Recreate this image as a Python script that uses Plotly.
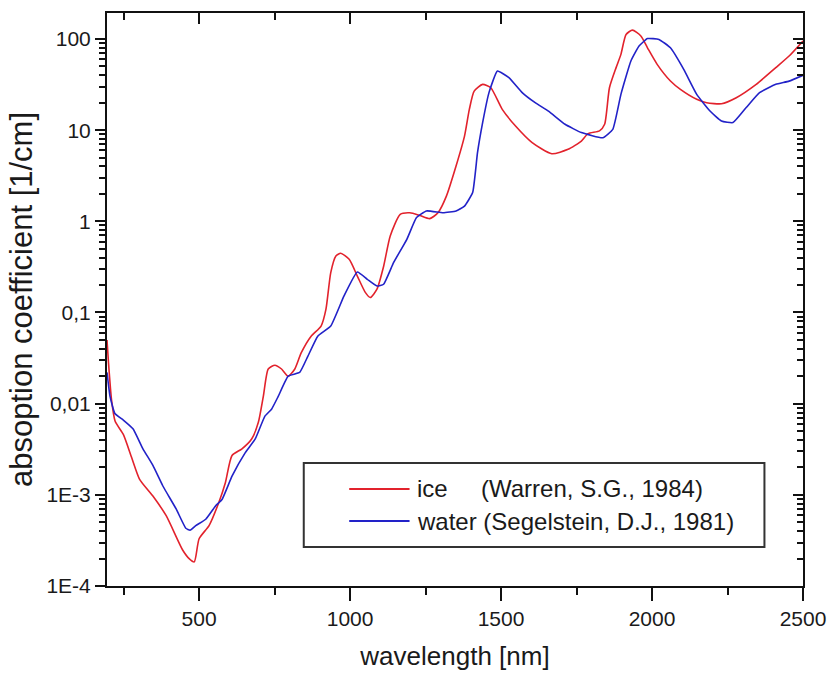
import plotly.graph_objects as go

# ---- data ----
ice_wl = [195, 200, 210, 222, 249, 276, 303, 347, 391, 445, 467, 484, 500, 533, 565, 587,
          609, 642, 674, 696, 713, 729, 751, 773, 795, 817, 838, 871, 904, 920, 936, 953,
          969, 997, 1024, 1051, 1067, 1089, 1111, 1133, 1166, 1198, 1231, 1264, 1291, 1319,
          1351, 1379, 1395, 1411, 1439, 1466, 1504, 1548, 1603, 1668, 1722, 1766, 1788, 1826,
          1843, 1859, 1881, 1897, 1914, 1935, 1963, 1985, 2017, 2061, 2094, 2148, 2181, 2230,
          2279, 2345, 2410, 2454, 2500]
ice_abs = [0.05, 0.028, 0.011, 0.0064, 0.0046, 0.0026, 0.00148, 0.00097, 0.00059, 0.00025,
           0.0002, 0.000184, 0.00033, 0.00046, 0.00082, 0.00136, 0.0027, 0.0032, 0.0041,
           0.0062, 0.0122, 0.024, 0.0264, 0.024, 0.020, 0.024, 0.036, 0.055, 0.071, 0.108,
           0.274, 0.417, 0.446, 0.383, 0.251, 0.165, 0.146, 0.18, 0.32, 0.69, 1.19, 1.24,
           1.16, 1.07, 1.24, 1.89, 4.04, 8.6, 16.9, 26.8, 31.8, 29.2, 16.9, 11.1, 7.3, 5.52,
           6.16, 7.6, 9.15, 9.8, 11.6, 29.2, 48.5, 67.8, 112, 125, 108, 80, 52.7, 34.6, 28,
           21.8, 20, 19.5, 22.7, 31.8, 48.5, 65, 95]

water_wl = [195, 205, 221, 249, 281, 314, 347, 380, 424, 456, 470, 489, 522, 555, 576, 609,
            653, 686, 718, 740, 762, 795, 833, 860, 893, 936, 980, 1024, 1057, 1089, 1111,
            1144, 1188, 1220, 1253, 1308, 1351, 1379, 1406, 1422, 1439, 1460, 1488, 1526,
            1570, 1613, 1657, 1712, 1766, 1837, 1870, 1897, 1930, 1957, 1985, 2023, 2061,
            2105, 2148, 2192, 2230, 2268, 2312, 2356, 2410, 2454, 2500]
water_abs = [0.022, 0.012, 0.0078, 0.0066, 0.0053, 0.0032, 0.0021, 0.00125, 0.0007, 0.00043,
             0.00041, 0.00046, 0.00054, 0.00076, 0.00089, 0.0016, 0.0029, 0.0041, 0.0073,
             0.0087, 0.012, 0.020, 0.022, 0.033, 0.055, 0.071, 0.152, 0.278, 0.231, 0.195,
             0.204, 0.352, 0.635, 1.1, 1.3, 1.24, 1.3, 1.47, 2.07, 5.66, 12.1, 25.8, 44.5,
             37.7, 25.8, 20, 16.2, 11.6, 9.4, 8.27, 10.2, 24.7, 57.3, 83.6, 101, 99, 80, 46.4,
             24.7, 16.2, 12.6, 12.1, 17.7, 25.8, 31.8, 34.5, 40]

x_major = [500, 1000, 1500, 2000, 2500]
x_minor = [250, 750, 1250, 1750, 2250]
y_major = [1e-4, 1e-3, 1e-2, 1e-1, 1, 10, 100]
y_labels = ["1E-4", "1E-3", "0,01", "0,1", "1", "10", "100"]
y_minor = [float(f"{m}e{e}") for e in range(-4, 3) for m in range(2, 10)]

ice_name = "ice\u00a0\u00a0\u00a0\u00a0\u00a0(Warren, S.G., 1984)"
water_name = "water (Segelstein, D.J., 1981)"

RED = "#e2222c"
BLUE = "#2222c8"
FONT = "Arial, Liberation Sans, sans-serif"
X_RANGE = [195, 2500]
Y_RANGE = [-4, 2.285]

fig = go.Figure()
fig.add_trace(go.Scatter(x=ice_wl, y=ice_abs, mode="lines", name=ice_name,
                         line=dict(color=RED, width=1.6, shape="spline", smoothing=0.6),
                         showlegend=False))
fig.add_trace(go.Scatter(x=water_wl, y=water_abs, mode="lines", name=water_name,
                         line=dict(color=BLUE, width=1.6, shape="spline", smoothing=0.4),
                         showlegend=False))
# empty trace that makes the mirrored (top/right) frame axes exist
fig.add_trace(go.Scatter(x=[], y=[], xaxis="x2", yaxis="y2", showlegend=False,
                         hoverinfo="skip"))

axis_common = dict(showgrid=False, zeroline=False, showline=True, linecolor="#111",
                   linewidth=2, tickcolor="#111", tickwidth=1.5)
ymin_common = dict(tickmode="array", tickvals=y_minor, ticklen=6, showgrid=False,
                   tickcolor="#111", tickwidth=1.6)

fig.update_layout(
    width=838, height=678,
    margin=dict(l=107, r=27, t=13, b=92),
    paper_bgcolor="white", plot_bgcolor="white",
    font=dict(family=FONT, color="#1a1a1a"),
    xaxis=dict(range=X_RANGE, tickvals=x_major, ticks="outside", ticklen=13,
               tickfont=dict(size=21), title=dict(text="wavelength [nm]",
               font=dict(size=26), standoff=18),
               minor=dict(tickvals=x_minor, ticks="outside", ticklen=7,
                          tickcolor="#111", tickwidth=1.5),
               **axis_common),
    yaxis=dict(type="log", range=Y_RANGE, tickmode="array", tickvals=y_major,
               ticktext=y_labels, ticks="outside", ticklen=10, tickfont=dict(size=21),
               title=dict(text="absoption coefficient [1/cm]", font=dict(size=31), standoff=5),
               minor=dict(ticks="outside", **ymin_common),
               **axis_common),
    xaxis2=dict(range=X_RANGE, overlaying="x", side="top", anchor="y2",
                tickvals=x_major, ticks="inside", ticklen=11, showticklabels=False,
                minor=dict(tickvals=x_minor, ticks="inside", ticklen=7,
                           tickcolor="#111", tickwidth=1.5),
                **axis_common),
    yaxis2=dict(type="log", range=Y_RANGE, overlaying="y", side="right", anchor="x2",
                tickmode="array", tickvals=y_major, ticks="inside", ticklen=10,
                showticklabels=False,
                minor=dict(ticks="inside", **ymin_common),
                **axis_common),
)

# legend box (drawn by hand to match the reference's layout)
fig.add_shape(type="rect", xref="paper", yref="paper", x0=0.2827, x1=0.9446,
              y0=0.0681, y1=0.2147, line=dict(color="#333", width=2), fillcolor="white",
              layer="above")
for yy, col, txt in [(0.1693, RED, ice_name), (0.1134, BLUE, water_name)]:
    fig.add_shape(type="line", xref="paper", yref="paper", x0=0.348, x1=0.4347,
                  y0=yy, y1=yy, line=dict(color=col, width=1.8), layer="above")
    fig.add_annotation(xref="paper", yref="paper", x=0.4432, y=yy, text=txt,
                       showarrow=False, xanchor="left", yanchor="middle",
                       font=dict(size=24, color="#1a1a1a", family=FONT))

fig.write_html("out.html")
